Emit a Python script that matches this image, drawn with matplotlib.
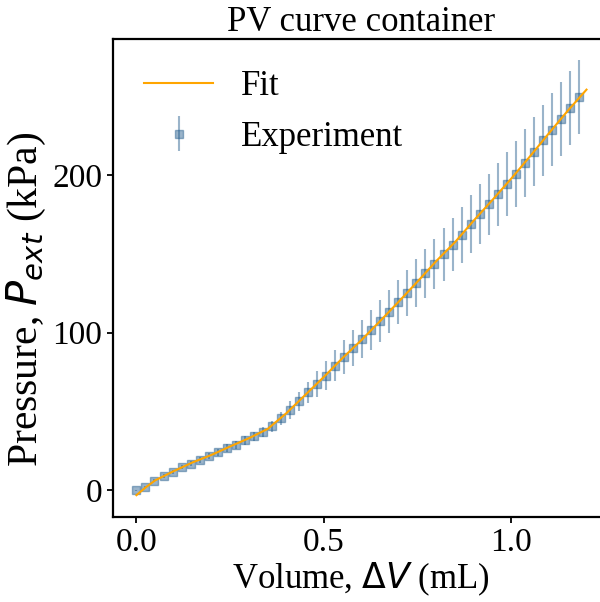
import numpy as np
import matplotlib
matplotlib.use('Agg')
import matplotlib.pyplot as plt

# Experimental points (volume in mL, pressure in kPa, error in kPa)
volume = np.linspace(0, 1.18, 50)
pressure = [0, 2.2, 6.2, 9.2, 11.9, 14.7, 17.0, 19.4, 21.8, 24.1,
            26.9, 29.0, 31.8, 34.3, 37.2, 40.6, 45.8, 51.0, 56.6, 62.1,
            67.5, 72.8, 78.9, 84.4, 90.3, 95.8, 101.7, 107.4, 113.3, 119.3,
            125.2, 131.5, 137.5, 143.7, 149.6, 155.8, 162.0, 168.9, 175.1, 181.3,
            187.8, 194.2, 200.8, 207.6, 214.6, 221.8, 228.6, 235.5, 242.3, 249.3]
error = [0.3, 0.5, 0.8, 1.0, 1.2, 1.4, 1.6, 1.8, 2.0, 2.2,
         2.4, 2.6, 2.8, 3.0, 3.2, 3.4, 4.2, 5.5, 6.0, 6.5,
         8.3, 9.0, 9.8, 10.9, 11.3, 11.9, 12.4, 13.2, 13.7, 14.1,
         14.7, 15.3, 15.7, 15.9, 16.6, 16.7, 17.8, 18.2, 18.8, 19.2,
         20.0, 20.4, 20.9, 21.6, 21.9, 22.4, 23.0, 23.3, 23.5, 23.5]

# Fitted curve
fit_volume = [0.0, 0.025, 0.05, 0.1, 0.15, 0.2, 0.25, 0.3, 0.35, 0.4, 0.45, 0.5,
              0.55, 0.6, 0.65, 0.7, 0.75, 0.8, 0.85, 0.9, 0.95, 1.0,
              1.05, 1.1, 1.15, 1.2]
fit_pressure = [-3.0, 2.0, 6.4, 12.3, 17.8, 22.5, 27.9, 33.1, 39.0, 49.0, 60.5, 72.0,
                84.0, 95.3, 107.4, 119.8, 132.5, 145.5, 157.5, 171.2, 184.3, 197.8,
                211.9, 226.4, 240.6, 254.0]

plt.rcParams['font.family'] = ['Liberation Serif', 'DejaVu Serif']
plt.rcParams['mathtext.fontset'] = 'dejavusans'
plt.rcParams['font.size'] = 25

fig = plt.figure(figsize=(6, 6.02), dpi=100)
ax = fig.add_axes([0.188, 0.141, 0.827, 0.794])

ax.plot(fit_volume, fit_pressure, color='orange', lw=1.5, label='Fit', zorder=3)
ax.errorbar(volume, pressure, yerr=error, fmt='s', color='#1f5a8b', alpha=0.45,
            markersize=6, elinewidth=1.5, capsize=0, label='Experiment', zorder=2)

ax.set_xlim(-0.063, 1.26)
ax.set_ylim(-16.9, 286)
ax.set_xticks([0.0, 0.5, 1.0])
ax.set_yticks([0, 100, 200])

ax.set_title('PV curve container', fontsize=25, pad=4)
ax.set_xlabel(r'Volume, $\Delta V$ (mL)', fontsize=25, labelpad=2)
ax.set_ylabel(r'Pressure, $P_{ext}$ (kPa)', fontsize=30)
ax.yaxis.set_label_coords(-0.13, 0.455)

for s in ax.spines.values():
    s.set_linewidth(1.6)
ax.tick_params(width=1.3, length=4, labelsize=24)

ax.legend(loc='upper left', frameon=False, fontsize=25, handlelength=2.0)

fig.savefig('out.png', dpi=100)
